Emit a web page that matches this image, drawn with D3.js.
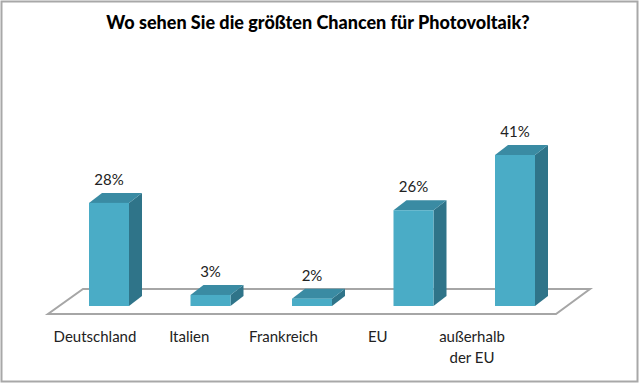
<!DOCTYPE html>
<html>
<head>
<meta charset="utf-8">
<script src="https://cdn.jsdelivr.net/npm/d3@7"></script>
<style>
html,body{margin:0;padding:0;background:#fff;}
svg{display:block;}
</style>
</head>
<body>
<svg id="chart" width="640" height="384"></svg>
<script>
const title = "Wo sehen Sie die größten Chancen für Photovoltaik?";
const categories = ["Deutschland", "Italien", "Frankreich", "EU", "außerhalb der EU"];
const categoryLines = [["Deutschland"], ["Italien"], ["Frankreich"], ["EU"], ["außerhalb", "der EU"]];
const values = [28, 3, 2, 26, 41];
const valueLabels = ["28%", "3%", "2%", "26%", "41%"];

const svg = d3.select("#chart");
const font = "Lato, Calibri, 'Open Sans', sans-serif";

// border
svg.append("rect").attr("x", 1.5).attr("y", 1.5).attr("width", 636).attr("height", 380)
  .attr("fill", "#fff").attr("stroke", "#a8a8a8").attr("stroke-width", 2);

// title
svg.append("text").attr("x", 318).attr("y", 29).attr("text-anchor", "middle")
  .attr("font-family", font).attr("font-weight", 900).attr("font-size", 18)
  .attr("fill", "#000").text(title);

const x = d3.scalePoint().domain(categories).range([109, 515]);
const xLabel = d3.scalePoint().domain(categories).range([95, 472]);
const y = d3.scaleLinear().domain([0, 41]).range([306, 155]);
const bw = 40, dx = 13, dy = -10;

// floor
const floor = [[83, 289], [590, 289], [556, 314], [48, 314]];
svg.append("path").attr("d", d3.line()(floor) + "Z")
  .attr("fill", "#fff").attr("stroke", "#a6a6a6").attr("stroke-width", 2);

const g = svg.append("g");
categories.forEach((c, i) => {
  const x0 = x(c) - bw / 2, x1 = x(c) + bw / 2;
  const yt = y(values[i]), yb = y(0);
  // side
  g.append("path").attr("d", d3.line()([[x1, yb], [x1 + dx, yb + dy], [x1 + dx, yt + dy], [x1, yt]]) + "Z")
    .attr("fill", "#2f7489");
  // top
  g.append("path").attr("d", d3.line()([[x0, yt], [x0 + dx, yt + dy], [x1 + dx, yt + dy], [x1, yt]]) + "Z")
    .attr("fill", "#3a8ba3");
  // front
  g.append("rect").attr("x", x0).attr("y", yt).attr("width", bw).attr("height", yb - yt)
    .attr("fill", "#4aacc6");
  // value label
  g.append("text").attr("x", x(c)).attr("y", yt - 18).attr("text-anchor", "middle")
    .attr("font-family", font).attr("font-size", 15).attr("fill", "#222").text(valueLabels[i]);
});

// category labels
categories.forEach((c, i) => {
  const t = svg.append("text").attr("text-anchor", "middle")
    .attr("font-family", font).attr("font-size", 15).attr("fill", "#222");
  categoryLines[i].forEach((ln, j) => {
    t.append("tspan").attr("x", xLabel(c)).attr("y", 342 + j * 21).text(ln);
  });
});
</script>
</body>
</html>
